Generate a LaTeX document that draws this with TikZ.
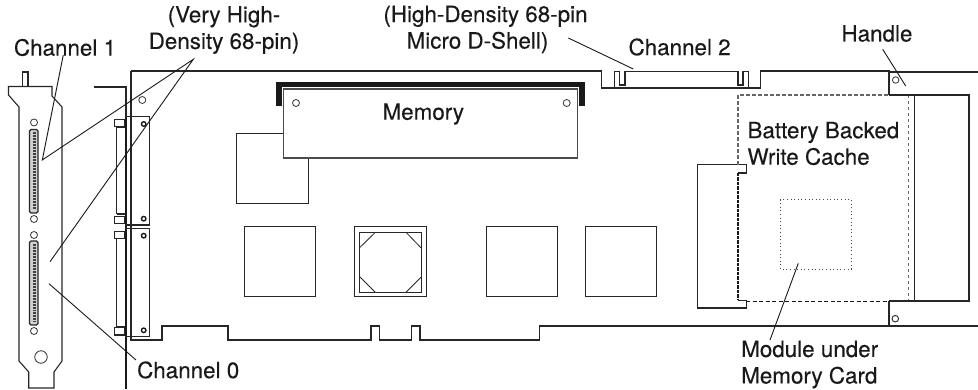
\documentclass[tikz,border=0pt]{standalone}
\usepackage{fontspec}
\setmainfont[FakeBold=0.2]{TeX Gyre Heros}
\usetikzlibrary{positioning}

\begin{document}
\begin{tikzpicture}
  [x=1pt,y=-1pt,line join=miter,
  part/.style={draw=black!85,line width=1pt,fill=white},
  outline/.style={draw=black!85,line width=1.1pt},
  leader/.style={draw=black!90,line width=0.9pt},
  hole/.style={circle,draw=black!80,line width=0.8pt,fill=white,inner sep=0pt,minimum size=7pt},
  screw/.style={circle,draw=black!90,line width=1.4pt,fill=white,inner sep=0pt,minimum size=4.5pt},
  label/.style={font=\fontsize{22.4}{26.5}\selectfont,text=black!90,inner sep=0pt,align=left}]
  \useasboundingbox (0,0) rectangle (978,390);
  \draw[outline] (131,71) -- (601.7,71) -- (601.7,88) -- (760.7,88) -- (760.7,71) -- (889,71)
    -- (889,72) -- (978,72);
  \draw[outline] (131,71) -- (131,340) -- (162,340) -- (162,326) -- (228,326) -- (228,340)
    -- (371,340) -- (371,326) -- (379.3,326) -- (379.3,340) -- (411.7,340) -- (411.7,326)
    -- (420,326) -- (420,340) -- (539.3,340) -- (539.3,326) -- (978,326);
  \draw[outline] (614.3,88) -- (614.3,71.5) -- (619.5,71.5) -- (619.5,85) -- (625,85) -- (625,71.5)
    -- (738,71.5) -- (738,85) -- (743,85) -- (743,71.5) -- (748.3,71.5) -- (748.3,88);
  \draw[outline] (19,107) -- (8.5,95) -- (8.5,86.5) -- (52,86.5) -- (52,96) -- (62,107)
    -- (62,361) -- (54,372) -- (54,388) -- (28.7,388) -- (28.7,372) -- (19,361) -- cycle;
  \draw[outline,line width=1.8pt] (8.5,86.5) -- (52,86.5);
  \draw[outline] (22.7,86) -- (22.7,72) -- (28,72) -- (28,86);
  \node[hole,minimum size=12.5pt] (bigbore) at (41,357) {};
  \node[hole] (bore1) at (34,122.5) {};
  \node[hole] (bore2) at (34,219) {};
  \node[hole] (bore3) at (34,235) {};
  \node[hole] (bore4) at (34,331) {};
  \draw[outline,fill=black!18,rounded corners=1.5pt] (29.5,129.5) rectangle (38,213);
  \draw[outline,fill=black!18,rounded corners=1.5pt] (29.5,241) rectangle (38,325);
  \draw[draw=black!75,line width=2.2pt,dash pattern=on 1pt off 0.5pt] (34.5,132) -- (34.5,210);
  \draw[draw=black!75,line width=2.2pt,dash pattern=on 1pt off 0.5pt] (34.5,244) -- (34.5,322);
  \draw[outline,line width=1.5pt] (94,87) -- (126,87) -- (126,117);
  \draw[draw=black!90,line width=2.8pt] (126,117) -- (126,389);
  \draw[part] (116.7,127) -- (116.7,214);
  \draw[part] (116.7,238.7) -- (116.7,327);
  \draw[part] (114.3,120) rectangle (124.3,126.7);
  \draw[part] (114.3,216.7) rectangle (124.3,224);
  \draw[part] (114.3,231.3) rectangle (124.3,238.7);
  \draw[part] (114.3,327.7) rectangle (124.3,335);
  \draw[outline] (116.7,127) -- (125,127) (116.7,214) -- (125,214) (116.7,238.7) -- (125,238.7)
    (116.7,327) -- (125,327);
  \draw[outline] (125.3,116.7) -- (149.7,116.7) -- (149.7,225) -- (125.3,225);
  \draw[outline] (125.3,228.3) -- (149.7,228.3) -- (149.7,336.7) -- (125.3,336.7);
  \node[screw] (pin1) at (143.7,124) {};
  \node[screw] (pin2) at (143.7,218.7) {};
  \node[screw] (pin3) at (143.7,235.7) {};
  \node[screw] (pin4) at (143.7,330.3) {};
  \node[hole] (bore5) at (142.3,100) {};
  \draw[draw=black!90,line width=5.6pt] (279,106) -- (279,84.7) -- (581.7,84.7) -- (581.7,106);
  \draw[part] (236.7,133.7) rectangle (308,203.3);
  \draw[part,draw=black!70,line width=1.2pt] (283.3,89) rectangle (577.3,158);
  \node[hole] (bore6) at (296,103) {};
  \node[hole] (bore7) at (566.7,103) {};
  \draw[part] (244,227) rectangle (315.3,296.7);
  \draw[part] (354.7,227) rectangle (426,296.7);
  \draw[part] (359.5,232.3) rectangle (421.5,292.3);
  \draw[part,line width=0.8pt] (359.7,247.7) -- (375.3,232.3) (406,232.3) -- (421.5,248.3)
    (359.7,276.7) -- (375.3,292.3) (406,292.3) -- (421.5,276.7);
  \draw[part] (486.3,227) rectangle (557.3,296.7);
  \draw[part] (585,227) rectangle (656.3,296.7);
  \draw[outline] (697.7,173) -- (697.7,164.7) -- (738,164.7) -- (746.3,164.7) -- (746.3,173)
    -- (738,173);
  \draw[outline] (697.7,173) -- (697.7,308) -- (746.3,308) -- (746.3,300.5) -- (738,300.5);
  \draw[draw=black!60,line width=1.2pt,dash pattern=on 3.5pt off 2.5pt] (738,164.7) -- (738,95)
    -- (908.3,95) -- (908.3,301);
  \draw[draw=black!90,line width=1.2pt,dash pattern=on 3.5pt off 1pt] (738,173) -- (738,300.5);
  \draw[draw=black!90,line width=0.9pt,dash pattern=on 4pt off 2.5pt] (746.3,301) -- (889,301);
  \draw[outline] (914.3,95) -- (914.3,301);
  \draw[outline] (889,95) -- (969,95) -- (969,301) -- (889,301);
  \draw[outline] (889,95) -- (889,72);
  \draw[outline] (889,301) -- (889,326);
  \draw[outline,line width=1.8pt] (889,71.5) -- (913,71.5);
  \draw[outline,line width=1.8pt] (889,325.5) -- (914,325.5);
  \node[hole,minimum size=6.5pt] (grip1) at (895.7,80) {};
  \node[hole,minimum size=6.5pt,line width=1pt] (grip2) at (895.3,318.7) {};
  \draw[draw=black!70,line width=0.9pt,dash pattern=on 1pt off 2.6pt] (780.3,199.7) rectangle (851.3,269.3);
  \node[label] (chan1) at (65,47.5) {Channel 1};
  \node[label,align=center] (vhd) at (224,30) {(Very High-\\Density 68-pin)};
  \node[label,align=center] (hd) at (485.5,29.5) {(High-Density 68-pin\\Micro D-Shell)\hspace*{16pt}};
  \node[label] (chan2) at (679.6,47) {Channel 2};
  \node[label] (handle) at (877,33.5) {Handle};
  \node[label] (memory) at (423.3,114) {Memory};
  \node[label,anchor=west] (cache) at (747.3,143.5) {Battery Backed\\Write Cache};
  \node[label,anchor=west] (module) at (741,364.5) {Module under\\Memory Card};
  \node[label] (chan0) at (188.2,370) {Channel 0};
  \coordinate (chan1top) at (63.3,55);
  \coordinate (chan1tip) at (42.3,160);
  \coordinate (vhdtop) at (193.3,59.3);
  \coordinate (vhdtip) at (50,261.7);
  \coordinate (chan0top) at (136,360);
  \coordinate (chan0tip) at (49,283.7);
  \coordinate (hdtop) at (568.3,38);
  \coordinate (hdtip) at (633.3,69);
  \coordinate (handletop) at (882.7,49.3);
  \coordinate (handletip) at (905.7,86);
  \coordinate (moduletop) at (770,340);
  \coordinate (moduletip) at (798.3,263.3);
  \draw[leader] (chan1top) -- (chan1tip) -- (vhdtop) -- (vhdtip);
  \draw[leader] (chan0top) -- (chan0tip);
  \draw[leader] (hdtop) -- (hdtip);
  \draw[leader] (handletop) -- (handletip);
  \draw[leader] (moduletop) -- (moduletip);
\end{tikzpicture}
\end{document}
